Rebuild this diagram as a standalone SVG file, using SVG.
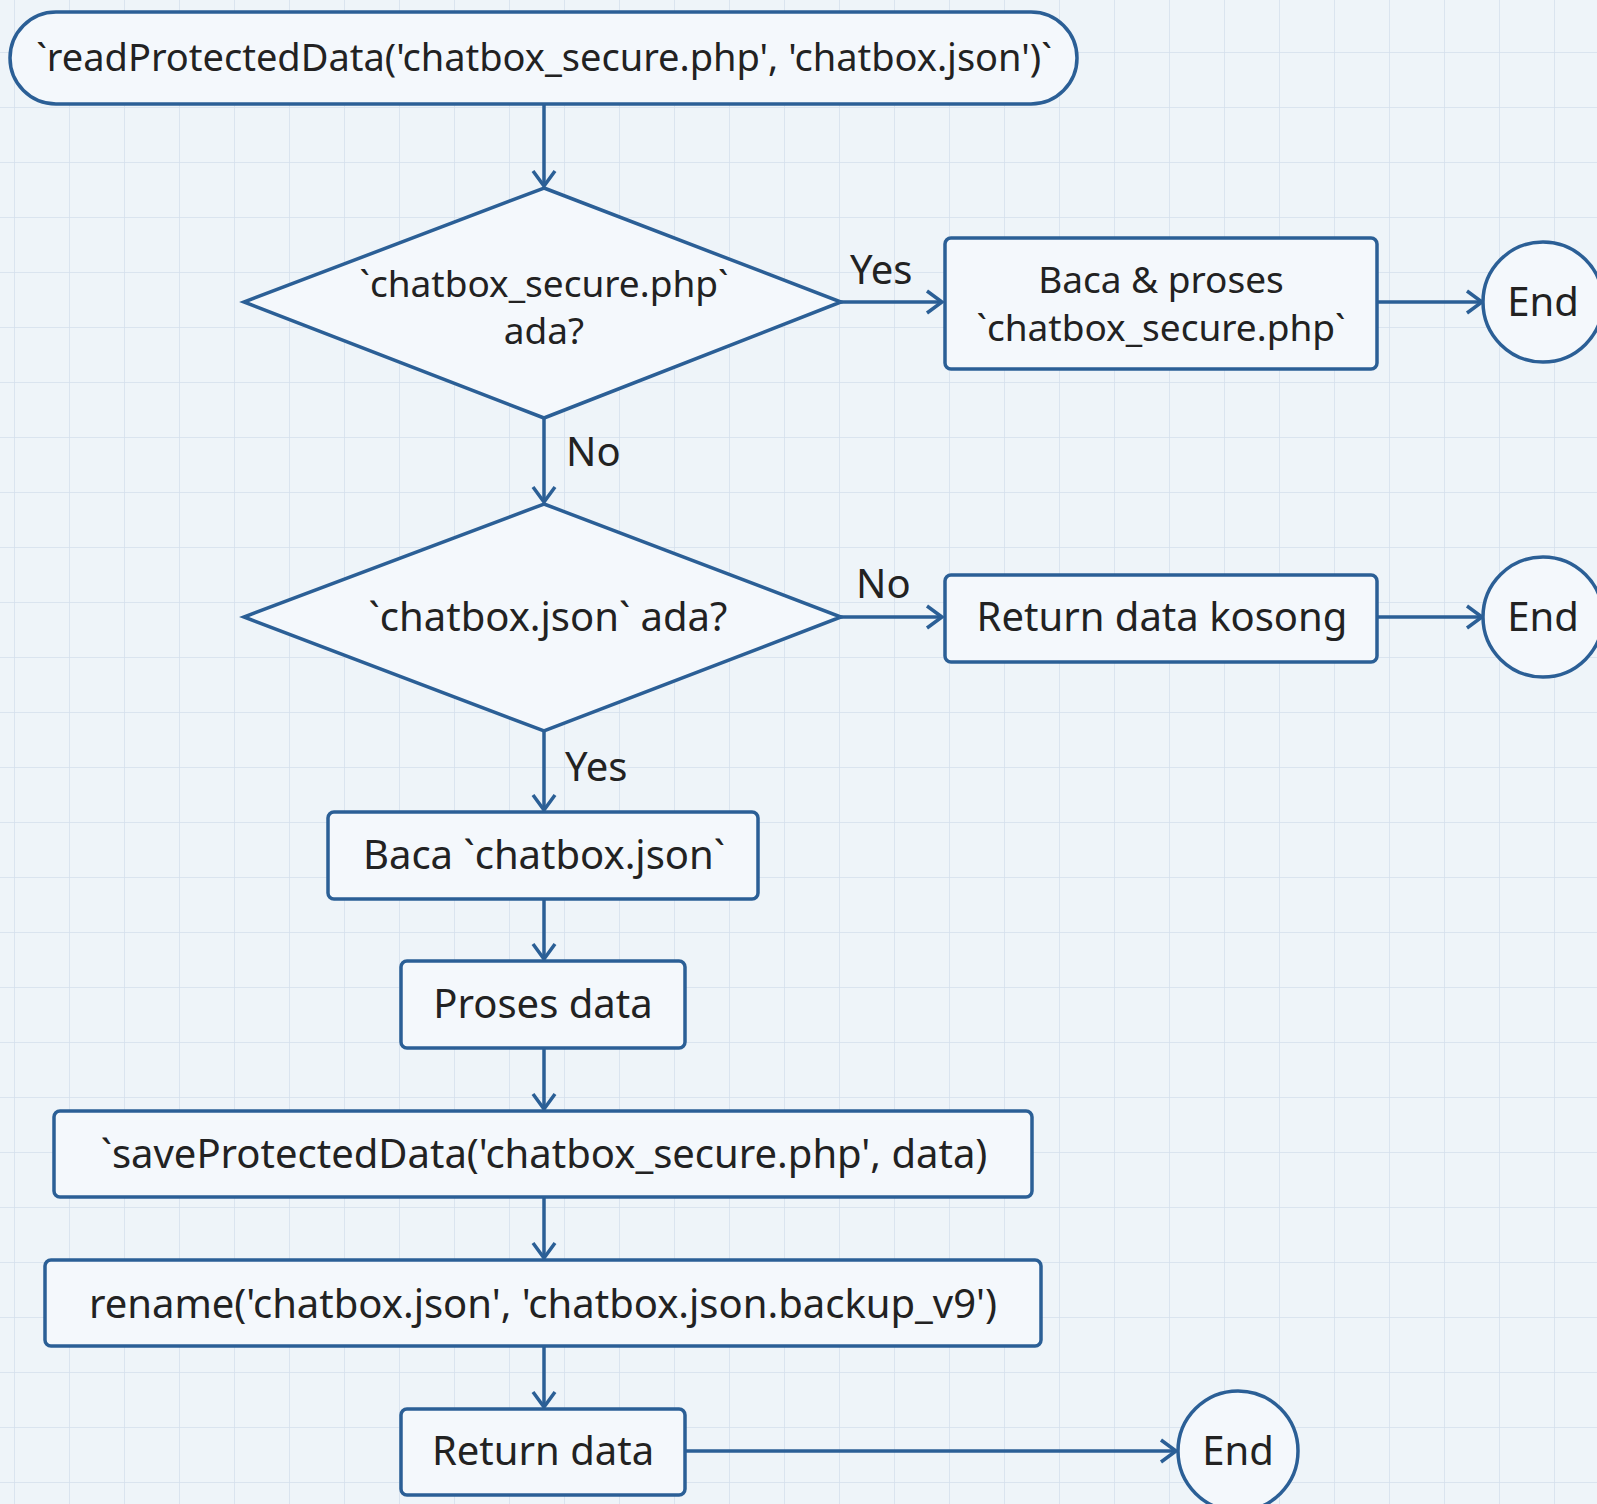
<svg xmlns="http://www.w3.org/2000/svg" width="1597" height="1504" viewBox="0 0 1597 1504">
<defs>
<pattern id="grid" x="14" y="52" width="55" height="55" patternUnits="userSpaceOnUse">
<path d="M55 0 L0 0 0 55" fill="none" stroke="#d4e0ec" stroke-width="1.5"/>
</pattern>
<marker id="arr" markerWidth="22" markerHeight="26" refX="18" refY="13" orient="auto" markerUnits="userSpaceOnUse">
<path d="M3 2 L18 13 L3 24" fill="none" stroke="#2b5f96" stroke-width="3.5" stroke-linejoin="miter"/>
</marker>
</defs>
<style>
.shape{fill:#f4f8fc;stroke:#2b5f96;stroke-width:3.5}
.t{font-family:"Noto Sans","Open Sans","DejaVu Sans",sans-serif;font-size:40px;fill:#222;text-anchor:middle}
.t2{font-size:37px}
.lbl{font-family:"Noto Sans","Open Sans","DejaVu Sans",sans-serif;font-size:40px;fill:#222}
.c{fill:none;stroke:#2b5f96;stroke-width:3.5;marker-end:url(#arr)}
</style>
<rect width="1597" height="1504" fill="#eef4f9"/>
<rect width="1597" height="1504" fill="url(#grid)"/>
<g id="connectors">
<line class="c" x1="544" y1="104" x2="544" y2="186"/>
<line class="c" x1="841" y1="302" x2="942" y2="302"/>
<line class="c" x1="1377" y1="302" x2="1482" y2="302"/>
<line class="c" x1="544" y1="418" x2="544" y2="502"/>
<line class="c" x1="841" y1="617" x2="942" y2="617"/>
<line class="c" x1="1377" y1="617" x2="1482" y2="617"/>
<line class="c" x1="544" y1="731" x2="544" y2="810"/>
<line class="c" x1="544" y1="899" x2="544" y2="959"/>
<line class="c" x1="544" y1="1048" x2="544" y2="1109"/>
<line class="c" x1="544" y1="1197" x2="544" y2="1258"/>
<line class="c" x1="544" y1="1346" x2="544" y2="1407"/>
<line class="c" x1="685" y1="1451" x2="1176" y2="1451"/>
<text class="lbl" x="850" y="284">Yes</text>
<text class="lbl" x="566" y="466">No</text>
<text class="lbl" x="856" y="598">No</text>
<text class="lbl" x="565" y="781">Yes</text>
</g>
<g id="start">
<rect class="shape" x="10" y="12" width="1067" height="92" rx="46" ry="46"/>
<text class="t" x="544" y="71" style="font-size:38px">`readProtectedData('chatbox_secure.php', 'chatbox.json')`</text>
</g>
<g id="decision1">
<polygon class="shape" points="544,188 841,302 544,418 244,302"/>
<text class="t t2" x="544" y="297">`chatbox_secure.php`</text>
<text class="t t2" x="544" y="344">ada?</text>
</g>
<g id="readSecure">
<rect class="shape" x="945" y="238" width="432" height="131" rx="6"/>
<text class="t t2" x="1161" y="293">Baca &amp; proses</text>
<text class="t t2" x="1161" y="341">`chatbox_secure.php`</text>
</g>
<g id="end1">
<circle class="shape" cx="1543" cy="302" r="60"/>
<text class="t" x="1543" y="316">End</text>
</g>
<g id="decision2">
<polygon class="shape" points="544,504 841,617 544,731 244,617"/>
<text class="t" x="548" y="631">`chatbox.json` ada?</text>
</g>
<g id="returnEmpty">
<rect class="shape" x="945" y="575" width="432" height="87" rx="6"/>
<text class="t" x="1162" y="631">Return data kosong</text>
</g>
<g id="end2">
<circle class="shape" cx="1543" cy="617" r="60"/>
<text class="t" x="1543" y="631">End</text>
</g>
<g id="readJson">
<rect class="shape" x="328" y="812" width="430" height="87" rx="6"/>
<text class="t" x="544" y="869">Baca `chatbox.json`</text>
</g>
<g id="process">
<rect class="shape" x="401" y="961" width="284" height="87" rx="6"/>
<text class="t" x="543" y="1018">Proses data</text>
</g>
<g id="save">
<rect class="shape" x="54" y="1111" width="978" height="86" rx="6"/>
<text class="t" x="544" y="1168">`saveProtectedData('chatbox_secure.php', data)</text>
</g>
<g id="rename">
<rect class="shape" x="45" y="1260" width="996" height="86" rx="6"/>
<text class="t" x="543" y="1318">rename('chatbox.json', 'chatbox.json.backup_v9')</text>
</g>
<g id="returnData">
<rect class="shape" x="401" y="1409" width="284" height="86" rx="6"/>
<text class="t" x="543" y="1465">Return data</text>
</g>
<g id="end3">
<circle class="shape" cx="1238" cy="1451" r="60"/>
<text class="t" x="1238" y="1465">End</text>
</g>
</svg>
